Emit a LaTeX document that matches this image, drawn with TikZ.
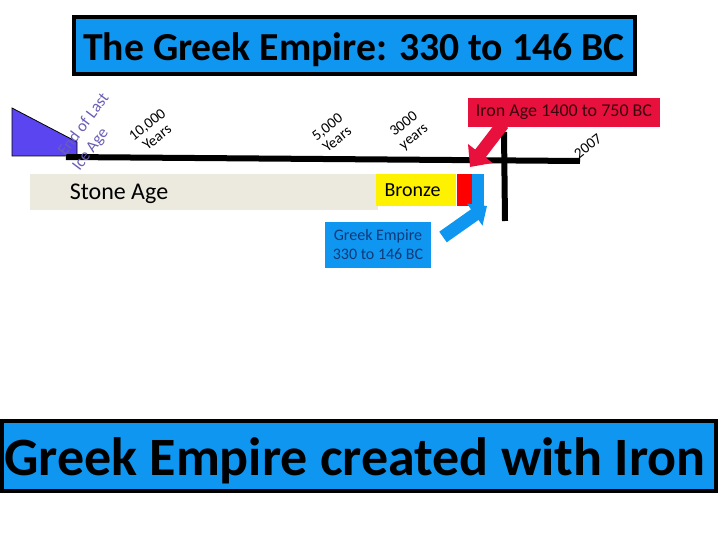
\documentclass[tikz,border=0pt]{standalone}
\usepackage{fontspec}
\setmainfont{Carlito}
\usepackage{tikz}
\usetikzlibrary{arrows.meta,positioning,calc}
\definecolor{skyblue}{HTML}{0F96F0}
\definecolor{ironred}{HTML}{E8103C}
\definecolor{stonegrey}{HTML}{ECE9DF}
\definecolor{wedgeblue}{HTML}{5B45F0}
\definecolor{iceblue}{HTML}{6A5FB5}
\definecolor{darkblue}{HTML}{0F3A78}
\tikzset{
  banner/.style={draw=black,line width=4pt,fill=skyblue,inner sep=0pt,font=\bfseries},
  period/.style={inner sep=0pt,minimum height=32pt,anchor=north west},
  span/.style={align=center,rotate=38,font=\fontsize{15}{16}\selectfont,inner sep=0pt},
  icetext/.style={rotate=53,text=iceblue,font=\fontsize{16.5}{17}\selectfont,inner sep=0pt},
  ironarrow/.style={-{Triangle[length=17pt,width=30pt]},line width=13pt,draw=ironred},
  greekarrow/.style={-{Triangle[length=15pt,width=26pt]},line width=13pt,draw=skyblue}
}
\begin{document}
\begin{tikzpicture}[x=1pt,y=-1pt]
  \useasboundingbox (0,0) rectangle (720,540);
  \node[banner,minimum width=561pt,minimum height=57pt] (title) at (354,46) {\fontsize{39.7}{40}\selectfont\rule{0pt}{35pt}The Greek Empire: 330 to 146 BC};
  \node[banner,minimum width=714pt,minimum height=70pt] (created) at (359,456) {\fontsize{54}{54}\selectfont\rule{0pt}{47pt}Greek Empire created with Iron\rule{8pt}{0pt}};
  % first wedge
  \filldraw[fill=wedgeblue,draw=black,line width=0.8pt] (12,108) -- (77,142) -- (77,156) -- (12,156) -- cycle;
  % periods
  \node[period,fill=stonegrey,minimum width=348pt,minimum height=36pt] (stone) at (30,174) {};
  \node[font=\fontsize{24}{24}\selectfont] (stonetext) at (119,194) {Stone Age};
  \node[period,fill=yellow,minimum width=80pt] (bronze) at (376,174) {};
  \node[font=\fontsize{20}{20}\selectfont] (bronzetext) at (412.5,190) {Bronze};
  \node[period,fill=red,minimum width=15pt] (iron) [right=0pt of bronze.north east,anchor=north west] {};
  \node[period,fill=skyblue,minimum width=12pt] (greek) [right=0pt of iron.north east,anchor=north west] {};
  % time lines
  \coordinate (linestart) at (66,157);
  \coordinate (lineend) at (580,161);
  \coordinate (nowtop) at (504,132);
  \coordinate (nowbottom) at (505,221);
  \draw[line width=6pt] (linestart) -- (lineend);
  \draw[line width=6pt] (nowtop) -- (nowbottom);
  % labels
  \node[icetext] (lastend) at (83,124) {End of Last};
  \node[icetext] (iceage) at (91,150) {Ice Age};
  \node[span] (tenk) at (152,131) {10,000\\Years};
  \node[span] (fivek) at (332,133) {5,000\\Years};
  \node[span] (threek) at (409,131) {3000\\years};
  \node[rotate=38,font=\fontsize{15}{15}\selectfont,inner sep=0pt] (now) at (588,146) {2007};
  % boxes
  \node[fill=ironred,minimum width=192pt,minimum height=29pt,inner sep=0pt,text=black!75!ironred,font=\fontsize{18}{18}\selectfont] (ironbox) at (564,112.5) {Iron Age 1400 to 750 BC};
  \node[fill=skyblue,minimum width=106pt,minimum height=46pt,inner sep=0pt,align=center,text=darkblue,font=\fontsize{16}{19}\selectfont] (greekbox) at (378,245) {Greek Empire\\330 to 146 BC};
  % block arrows
  \coordinate (ironfrom) at (503,124);
  \coordinate (irontip) at (470,167);
  \coordinate (greekfrom) at (443,237);
  \coordinate (greektip) at (487,206);
  \draw[ironarrow] (ironfrom) -- (irontip);
  \draw[greekarrow] (greekfrom) -- (greektip);
\end{tikzpicture}
\end{document}
